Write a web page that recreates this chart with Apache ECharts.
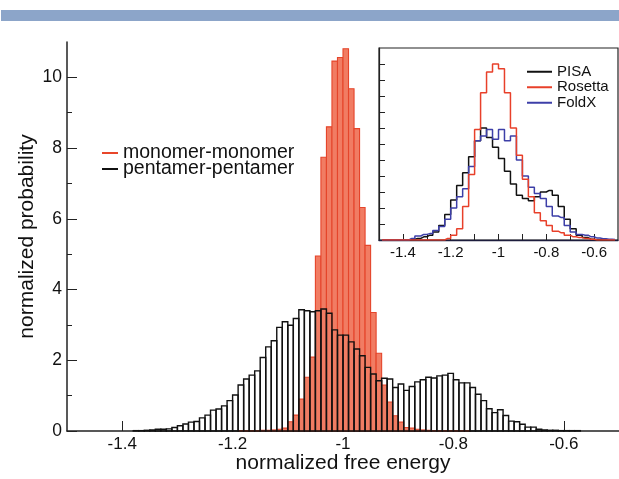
<!DOCTYPE html>
<html>
<head>
<meta charset="utf-8">
<script src="https://cdn.jsdelivr.net/npm/echarts@6/dist/echarts.min.js"></script>
<style>
html, body { margin: 0; padding: 0; background: #fff; }
#chart { width: 619px; height: 479px; }
</style>
</head>
<body>
<div id="chart"></div>
<script>
// main histograms: bins of 0.01 from -1.5 to -0.5 (100 bins)
var mainBinStart = -1.5;
var mainBinWidth = 0.01;
var monomerValues = [
	0, 0, 0, 0, 0, 0, 0, 0, 0, 0,
	0, 0, 0, 0, 0, 0, 0, 0, 0, 0,
	0, 0, 0, 0, 0, 0, 0, 0, 0, 0,
	0, 0.01, 0.01, 0.01, 0.01, 0.02, 0.02, 0.03, 0.05, 0.08,
	0.26, 0.45, 0.9, 1.52, 2.09, 4.95, 7.74, 8.6, 10.46, 10.56,
	10.81, 9.68, 8.55, 6.32, 5.25, 3.35, 2.2, 1.3, 0.82, 0.43,
	0.25, 0.1, 0.08, 0.05, 0.03, 0.02, 0.01, 0.01, 0.01, 0.01,
	0.01, 0.01, 0.01, 0, 0, 0, 0, 0, 0, 0,
	0, 0, 0, 0, 0, 0, 0, 0, 0, 0,
	0, 0, 0, 0, 0, 0, 0, 0, 0, 0
];
var pentamerValues = [
	0, 0, 0, 0, 0, 0, 0, 0, 0, 0,
	0, 0, 0.01, 0.01, 0.02, 0.03, 0.05, 0.05, 0.06, 0.1,
	0.15, 0.2, 0.25, 0.27, 0.37, 0.45, 0.59, 0.62, 0.71, 0.86,
	1.02, 1.3, 1.47, 1.58, 1.7, 2.08, 2.38, 2.55, 2.93, 3.09,
	2.99, 3.18, 3.43, 3.4, 3.37, 3.4, 3.45, 3.33, 2.86, 2.71,
	2.71, 2.52, 2.32, 2.13, 1.8, 1.61, 1.42, 1.49, 1.47, 1.23,
	1.33, 1.15, 1.26, 1.39, 1.45, 1.52, 1.5, 1.56, 1.58, 1.63,
	1.45, 1.36, 1.36, 1.23, 1.04, 0.86, 0.63, 0.52, 0.6, 0.44,
	0.28, 0.26, 0.19, 0.11, 0.11, 0.05, 0.03, 0.02, 0.02, 0.01,
	0.01, 0.01, 0.01, 0, 0, 0, 0, 0, 0, 0
];
var mainTicks = [-1.4, -1.2, -1, -0.8, -0.6];
var mainYTicks = [0, 2, 4, 6, 8, 10];
var mainYMinorTicks = [1, 3, 5, 7, 9];

// inset: bins of 0.025 from -1.5 to -0.5 (40 bins)
var insetBinStart = -1.5;
var insetBinWidth = 0.025;
var pisaValues = [
	0, 0, 0, 0, 0, 0.05, 0.1, 0.2, 0.3, 0.5,
	0.9, 1.6, 2.5, 3.4, 4.2, 5.2, 6.2, 7.0, 6.4, 5.8,
	5.1, 4.3, 3.5, 2.8, 2.6, 2.45, 2.7, 3.0, 3.1, 2.8,
	2.1, 1.3, 0.7, 0.3, 0.15, 0.05, 0, 0, 0, 0
];
var rosettaValues = [
	0, 0, 0, 0, 0, 0, 0, 0, 0, 0,
	0, 0.1, 0.3, 0.7, 2.1, 4.1, 6.9, 9.2, 10.5, 11.0,
	10.7, 9.2, 7.0, 5.3, 3.8, 2.7, 1.7, 1.2, 0.9, 0.55,
	0.45, 0.3, 0.2, 0.15, 0.1, 0.05, 0, 0, 0, 0
];
var foldxValues = [
	0, 0, 0, 0, 0, 0.1, 0.25, 0.35, 0.4, 0.6,
	0.85, 1.3, 2.0, 2.7, 3.2, 4.6, 6.2, 6.5, 6.9, 6.3,
	6.9, 6.2, 6.5, 5.0, 4.0, 3.3, 2.9, 2.6, 2.1, 1.5,
	1.4, 0.9, 0.5, 0.35, 0.3, 0.2, 0.12, 0.08, 0.05, 0.03
];
var insetLabels = [-1.4, -1.2, -1, -0.8, -0.6];
var insetXTicks = [-1.4, -1.3, -1.2, -1.1, -1, -0.9, -0.8, -0.7, -0.6];
var insetYTicks = [1, 2, 3, 4, 5, 6, 7, 8, 9, 10, 11];

var FONT = '"Liberation Sans", Arial, sans-serif';

function toBins(values, start, width) {
	var out = [];
	for (var i = 0; i < values.length; i++) {
		out.push([start + width * (i + 0.5), values[i]]);
	}
	return out;
}

function barRenderer(fill, stroke, width) {
	return function (params, api) {
		var x = api.value(0), y = api.value(1);
		if (!y) return null;
		var p0 = api.coord([x - mainBinWidth / 2, y]);
		var p1 = api.coord([x + mainBinWidth / 2, 0]);
		return {
			type: 'rect',
			shape: { x: p0[0], y: p0[1], width: p1[0] - p0[0], height: p1[1] - p0[1] },
			style: { fill: fill, stroke: stroke, lineWidth: width }
		};
	};
}

var myChart = echarts.init(document.getElementById('chart'));
myChart.setOption({
	animation: false,
	textStyle: { fontFamily: FONT, color: '#111' },
	graphic: [{
		type: 'rect',
		shape: { x: 1, y: 10, width: 618, height: 11 },
		style: { fill: '#8ca5c9' }
	}],
	legend: [{
		data: [
			{ name: 'monomer-monomer', icon: 'rect', itemStyle: { color: '#e8462a' } },
			{ name: 'pentamer-pentamer', icon: 'rect', itemStyle: { color: '#111' } }
		],
		orient: 'vertical',
		left: 102,
		top: 143,
		itemWidth: 16,
		itemHeight: 2,
		itemGap: -4,
		padding: 0,
		textStyle: { fontSize: 19.5, lineHeight: 16, color: '#111', fontFamily: FONT },
		selectedMode: false
	}, {
		data: ['PISA', 'Rosetta', 'FoldX'],
		orient: 'vertical',
		left: 527,
		top: 64,
		itemWidth: 25,
		itemHeight: 2,
		itemGap: 0,
		padding: 0,
		icon: 'rect',
		textStyle: { fontSize: 15, lineHeight: 15.5, color: '#111', fontFamily: FONT },
		selectedMode: false
	}],
	grid: [
		{ left: 67, right: 0, top: 42, bottom: 47 },
		{ left: 379, right: 1, top: 48, bottom: 239, show: true, borderColor: '#222', borderWidth: 1.2, backgroundColor: '#fff', z: 3 }
	],
	xAxis: [{
		gridIndex: 0,
		type: 'value',
		min: -1.5,
		max: -0.5,
		axisLine: { onZero: false, lineStyle: { color: '#222', width: 1.5 } },
		axisTick: { inside: true, length: 10, customValues: mainTicks, lineStyle: { color: '#222' } },
		axisLabel: { customValues: mainTicks, fontSize: 17, color: '#111', margin: 5 },
		splitLine: { show: false },
		name: 'normalized free energy',
		nameLocation: 'middle',
		nameGap: 22,
		nameMoveOverlap: false,
		nameTextStyle: { fontSize: 21, color: '#111' }
	}, {
		gridIndex: 1,
		type: 'value',
		min: -1.5,
		max: -0.5,
		z: 4,
		axisLine: { onZero: false, lineStyle: { color: '#1c1c3c', width: 1.4 } },
		axisTick: { inside: true, length: 6, customValues: insetXTicks, lineStyle: { color: '#222' } },
		axisLabel: { customValues: insetLabels, fontSize: 15, color: '#111', margin: 5 },
		splitLine: { show: false }
	}],
	yAxis: [{
		gridIndex: 0,
		type: 'value',
		min: 0,
		max: 11,
		axisLine: { show: true, lineStyle: { color: '#222', width: 1.5 } },
		axisTick: { inside: true, length: 10, customValues: mainYTicks, lineStyle: { color: '#222' } },
		axisLabel: { customValues: mainYTicks, fontSize: 17.5, color: '#111', margin: 5 },
		splitLine: { show: false },
		name: 'normalized probability',
		nameLocation: 'middle',
		nameGap: 29,
		nameMoveOverlap: false,
		nameTextStyle: { fontSize: 21, color: '#111' }
	}, {
		gridIndex: 0,
		type: 'value',
		min: 0,
		max: 11,
		position: 'left',
		axisLine: { show: false },
		axisTick: { inside: true, length: 5, customValues: mainYMinorTicks, lineStyle: { color: '#222' } },
		axisLabel: { show: false },
		splitLine: { show: false }
	}, {
		gridIndex: 1,
		type: 'value',
		min: 0,
		max: 12,
		z: 4,
		axisLine: { show: true, lineStyle: { color: '#222', width: 1.2 } },
		axisTick: { inside: true, length: 6, customValues: insetYTicks, lineStyle: { color: '#222' } },
		axisLabel: { show: false },
		splitLine: { show: false }
	}],
	series: [{
		name: 'monomer-monomer',
		type: 'custom',
		xAxisIndex: 0,
		yAxisIndex: 0,
		z: 2,
		itemStyle: { color: '#e8462a' },
		renderItem: barRenderer('#f17c63', '#e5452b', 1.1),
		data: toBins(monomerValues, mainBinStart, mainBinWidth)
	}, {
		// outlines only, drawn over the red bars
		name: 'pentamer-pentamer',
		type: 'custom',
		xAxisIndex: 0,
		yAxisIndex: 0,
		z: 3,
		itemStyle: { color: '#111' },
		renderItem: barRenderer('none', '#111', 1.4),
		data: toBins(pentamerValues, mainBinStart, mainBinWidth)
	}, {
		name: 'PISA',
		type: 'line',
		xAxisIndex: 1,
		yAxisIndex: 2,
		step: 'middle',
		symbol: 'none',
		z: 5,
		color: '#111',
		lineStyle: { color: '#111', width: 1.5 },
		data: toBins(pisaValues, insetBinStart, insetBinWidth)
	}, {
		name: 'FoldX',
		type: 'line',
		xAxisIndex: 1,
		yAxisIndex: 2,
		step: 'middle',
		symbol: 'none',
		z: 5,
		color: '#3d3fa8',
		lineStyle: { color: '#3d3fa8', width: 1.5 },
		data: toBins(foldxValues, insetBinStart, insetBinWidth)
	}, {
		name: 'Rosetta',
		type: 'line',
		xAxisIndex: 1,
		yAxisIndex: 2,
		step: 'middle',
		symbol: 'none',
		z: 5,
		color: '#e8402a',
		lineStyle: { color: '#e8402a', width: 1.5 },
		data: toBins(rosettaValues, insetBinStart, insetBinWidth)
	}]
});
</script>
</body>
</html>
